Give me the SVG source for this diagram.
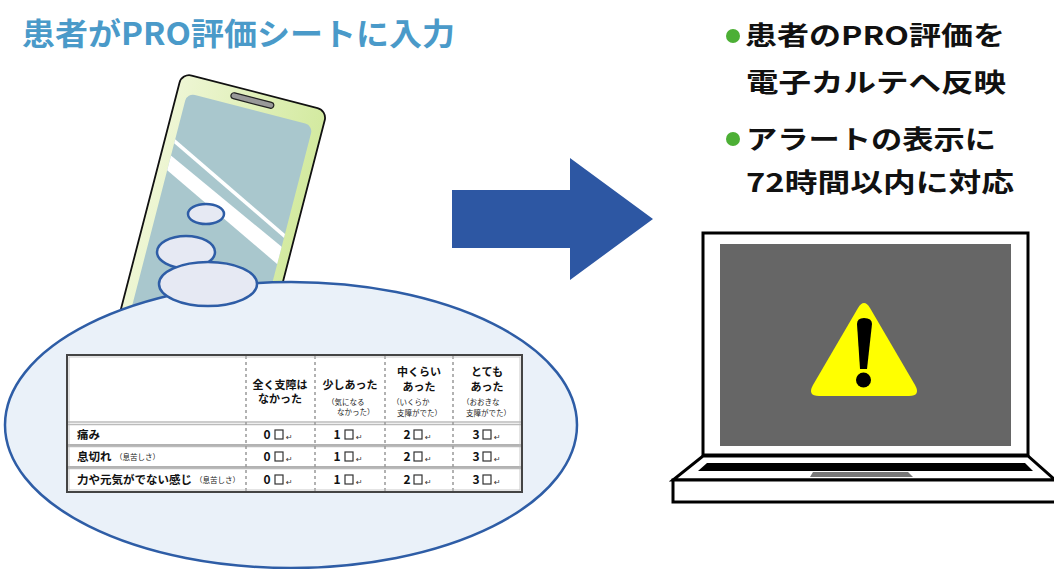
<svg xmlns="http://www.w3.org/2000/svg" width="1054" height="569" viewBox="0 0 1054 569">
  <style>
    .jp { font-family: "Noto Sans CJK JP", "Noto Sans", sans-serif; font-weight: bold; }
    .hd { font-size: 11px; fill: #111; }
    .sm { font-size: 7.5px; fill: #222; font-weight: normal; }
    .lb { font-size: 11.5px; fill: #111; }
    .num { font-size: 12px; fill: #111; }
    .ret { font-family: "DejaVu Sans", sans-serif; font-size: 8px; fill: #333; }
    .box { fill: #fff; stroke: #333; stroke-width: 1.2; }
    .bubble { fill: #E6E9F3; stroke: #2E5DA6; stroke-width: 2.5; }
    .col { stroke: #999; stroke-width: 1.5; stroke-dasharray: 3 3; }
    .rowl { stroke: #666; stroke-width: 1.2; }
    .rowg { stroke: #bbb; stroke-width: 1.5; }
    .head { font-size: 26px; fill: #111; }
  </style>
  <defs>
    <linearGradient id="phoneBody" x1="0" y1="0" x2="1" y2="0">
      <stop offset="0" stop-color="#EEF6D4"/>
      <stop offset="1" stop-color="#D3EAA0"/>
    </linearGradient>
    <clipPath id="screenClip">
      <rect x="10" y="18" width="130" height="290" rx="8"/>
    </clipPath>
  </defs>

  <rect width="1054" height="569" fill="#fff"/>

  <!-- heading, left -->
  <g id="title">
    <text class="jp" x="22" y="45" font-size="31" fill="#4A9AC9" textLength="433" lengthAdjust="spacingAndGlyphs">患者がPRO評価シートに入力</text>
  </g>

  <!-- smartphone -->
  <g id="phone" transform="translate(182,73) rotate(14.5)">
    <rect x="0" y="0" width="150" height="330" rx="10" fill="url(#phoneBody)" stroke="#111" stroke-width="1.8"/>
    <rect x="10" y="18" width="130" height="290" rx="8" fill="#A9C7CD"/>
    <g clip-path="url(#screenClip)" fill="#fff">
      <polygon points="0,61 150,135 150,139 0,65"/>
      <polygon points="0,78 150,148 150,166 0,93"/>
    </g>
    <rect x="53" y="6" width="44" height="6" rx="3" fill="#999" stroke="#222" stroke-width="1.2"/>
  </g>

  <!-- thought bubble holding the sheet -->
  <g id="bubble">
    <ellipse cx="291" cy="425" rx="286" ry="143" fill="#EAF1F9" stroke="#2E5DA6" stroke-width="2.5"/>
    <ellipse class="bubble" cx="206" cy="214" rx="18" ry="10"/>
    <ellipse class="bubble" cx="186" cy="252" rx="29" ry="16"/>
    <ellipse class="bubble" cx="208" cy="284" rx="49" ry="22"/>
  </g>

  <!-- PRO evaluation sheet -->
  <g id="sheet">
    <rect x="67" y="355" width="455" height="137" fill="#fff"/>
    <!-- row rules -->
    <line class="rowg" x1="67" y1="422" x2="522" y2="422"/>
    <line class="rowg" x1="67" y1="424.5" x2="522" y2="424.5"/>
    <line class="rowl" x1="67" y1="445" x2="522" y2="445"/>
    <line class="rowg" x1="67" y1="446.5" x2="522" y2="446.5"/>
    <line class="rowl" x1="67" y1="467" x2="522" y2="467"/>
    <line class="rowg" x1="67" y1="468.5" x2="522" y2="468.5"/>
    <!-- column rules -->
    <line class="col" x1="246" y1="356" x2="246" y2="491"/>
    <line class="col" x1="315" y1="356" x2="315" y2="491"/>
    <line class="col" x1="385" y1="356" x2="385" y2="491"/>
    <line class="col" x1="453" y1="356" x2="453" y2="491"/>
    <rect x="67" y="355" width="455" height="137" fill="none" stroke="#444" stroke-width="2"/>
    <rect x="69" y="357" width="451" height="133" fill="none" stroke="#bbb" stroke-width="0.8"/>

    <!-- header -->
    <g class="jp hd" text-anchor="middle">
      <text x="280" y="389">全く支障は</text>
      <text x="280" y="403">なかった</text>
      <text x="350" y="389">少しあった</text>
      <text x="419" y="376">中くらい</text>
      <text x="419" y="391">あった</text>
      <text x="487" y="376">とても</text>
      <text x="487" y="391">あった</text>
    </g>
    <g class="jp sm">
      <text x="327" y="405">（気になる</text>
      <text x="337" y="415">なかった）</text>
      <text x="392" y="405">（いくらか</text>
      <text x="397" y="416">支障がでた）</text>
      <text x="462" y="405">（おおきな</text>
      <text x="466" y="416">支障がでた）</text>
    </g>

    <!-- row labels -->
    <g class="jp lb">
      <text x="77" y="439">痛み</text>
      <text x="77" y="461">息切れ</text>
      <text x="77" y="484">力や元気がでない感じ</text>
    </g>
    <g class="jp sm">
      <text x="115" y="460">（息苦しさ）</text>
      <text x="195" y="483">（息苦しさ）</text>
    </g>

    <!-- answer cells -->
    <g class="jp num" text-anchor="middle">
      <text x="267" y="439">0</text><text x="337" y="439">1</text><text x="407" y="439">2</text><text x="476" y="439">3</text>
      <text x="267" y="461">0</text><text x="337" y="461">1</text><text x="407" y="461">2</text><text x="476" y="461">3</text>
      <text x="267" y="484">0</text><text x="337" y="484">1</text><text x="407" y="484">2</text><text x="476" y="484">3</text>
    </g>
    <g>
      <rect class="box" x="275" y="430" width="8" height="9"/><rect class="box" x="345" y="430" width="8" height="9"/><rect class="box" x="414" y="430" width="8" height="9"/><rect class="box" x="483" y="430" width="8" height="9"/>
      <rect class="box" x="275" y="452" width="8" height="9"/><rect class="box" x="345" y="452" width="8" height="9"/><rect class="box" x="414" y="452" width="8" height="9"/><rect class="box" x="483" y="452" width="8" height="9"/>
      <rect class="box" x="275" y="475" width="8" height="9"/><rect class="box" x="345" y="475" width="8" height="9"/><rect class="box" x="414" y="475" width="8" height="9"/><rect class="box" x="483" y="475" width="8" height="9"/>
    </g>
    <g class="ret">
      <text x="286" y="440">↵</text><text x="356" y="440">↵</text><text x="425" y="440">↵</text><text x="494" y="440">↵</text>
      <text x="286" y="462">↵</text><text x="356" y="462">↵</text><text x="425" y="462">↵</text><text x="494" y="462">↵</text>
      <text x="286" y="485">↵</text><text x="356" y="485">↵</text><text x="425" y="485">↵</text><text x="494" y="485">↵</text>
    </g>
  </g>

  <!-- connector -->
  <g id="connectors">
    <polygon points="452,190 570,190 570,158 653,219 570,280 570,248 452,248" fill="#2D57A3"/>
  </g>

  <!-- result notes, right -->
  <g id="notes">
    <circle cx="733" cy="36" r="7" fill="#4CAF35"/>
    <circle cx="733" cy="139" r="7" fill="#4CAF35"/>
    <text class="jp head" x="745" y="45" textLength="260" lengthAdjust="spacingAndGlyphs">患者のPRO評価を</text>
    <text class="jp head" x="746" y="92" textLength="260" lengthAdjust="spacingAndGlyphs">電子カルテへ反映</text>
    <text class="jp head" x="746" y="149" textLength="250" lengthAdjust="spacingAndGlyphs">アラートの表示に</text>
    <text class="jp head" x="746" y="192" textLength="268" lengthAdjust="spacingAndGlyphs">72時間以内に対応</text>
  </g>

  <!-- laptop with alert -->
  <g id="laptop">
    <rect x="703" y="233" width="325" height="222" fill="#fff" stroke="#000" stroke-width="3"/>
    <rect x="720" y="244" width="291" height="202" fill="#666"/>
    <path d="M858,308 Q864,298 870,308 L915,385 Q921,396 909,396 L819,396 Q807,396 813,385 Z" fill="#FFFF00"/>
    <path d="M857,324 Q857,318 864,318 Q872,318 872,324 L867,369 L860,369 Z" fill="#000"/>
    <circle cx="863.5" cy="380" r="7.5" fill="#000"/>
    <polygon points="703,456 1028,456 1055,480 673,480" fill="#fff" stroke="#000" stroke-width="3" stroke-linejoin="miter"/>
    <polygon points="707,463 1025,463 1033,471 698,471" fill="#000"/>
    <polygon points="813,472 908,472 913,477 810,477" fill="#777"/>
    <rect x="673" y="480" width="390" height="22" fill="#fff" stroke="#000" stroke-width="3"/>
  </g>
</svg>
